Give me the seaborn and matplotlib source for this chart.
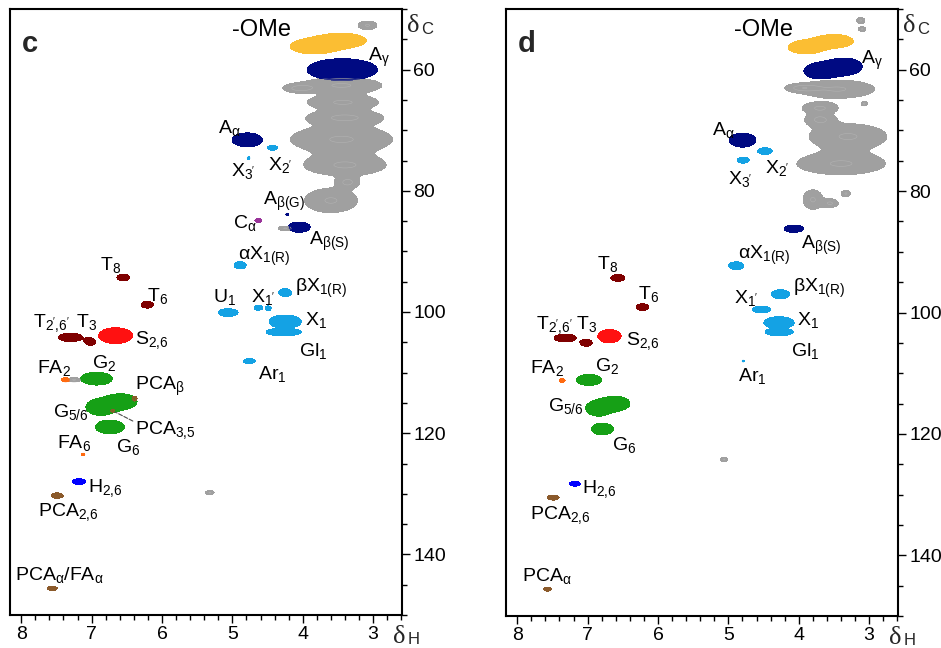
import numpy as np
import matplotlib
matplotlib.use("Agg")
import matplotlib.pyplot as plt
from matplotlib.ticker import MultipleLocator
import seaborn as sns

# ------------------------------------------------------------------
# Cross-peaks (dH, dC in ppm, widths in ppm)
# ------------------------------------------------------------------
c_group = ["poly"] * 12 + ["OMe", "OMe", "A", "A", "X", "X", "A", "C", "A",
           "X", "X", "U", "X", "X", "X", "Gl", "Ar", "T", "T", "T", "T", "S",
           "FA", "G", "G", "G", "G", "PCA", "PCA", "FA", "H", "PCA", "PCA"]
c_dh = [3.08, 3.45, 4.05, 3.43, 3.40, 3.45, 3.40, 3.36, 3.60, 4.25, 5.32, 7.25,
        3.85, 3.45, 3.44, 4.79, 4.43, 4.77, 4.22, 4.63, 4.05,
        4.89, 4.25, 5.06, 4.63, 4.49, 4.25, 4.27, 4.76, 6.55, 6.21, 7.30, 7.02, 6.66,
        7.37, 6.93, 6.88, 6.58, 6.74, 6.39, 6.70, 7.12, 7.18, 7.49, 7.56]
c_dc = [52.7, 62.6, 63.1, 65.4, 67.9, 71.5, 75.8, 78.6, 81.6, 86.2, 129.8, 111.2,
        56.2, 55.2, 60.0, 71.6, 72.9, 74.6, 83.9, 84.9, 86.0,
        92.3, 96.8, 100.1, 99.3, 99.4, 101.6, 103.3, 108.1, 94.3, 98.8, 104.2, 104.9, 103.9,
        111.2, 111.0, 115.7, 114.8, 119.0, 114.3, 116.3, 123.5, 128.0, 130.3, 145.6]
c_wh = [0.27, 1.15, 0.40, 1.00, 1.05, 1.45, 1.15, 0.30, 0.75, 0.20, 0.12, 0.20,
        0.65, 0.70, 1.00, 0.43, 0.14, 0.04, 0.04, 0.10, 0.31,
        0.17, 0.18, 0.28, 0.12, 0.08, 0.46, 0.50, 0.17, 0.18, 0.17, 0.34, 0.15, 0.48,
        0.12, 0.45, 0.40, 0.45, 0.41, 0.07, 0.06, 0.05, 0.18, 0.17, 0.14]
c_wc = [1.4, 2.6, 1.3, 2.3, 2.3, 4.4, 3.4, 1.8, 4.0, 0.7, 0.7, 0.7,
        2.4, 2.4, 3.6, 2.3, 0.8, 0.4, 0.4, 0.6, 1.7,
        1.2, 1.3, 1.3, 0.8, 0.8, 2.2, 1.3, 0.8, 1.1, 1.1, 1.4, 1.2, 2.6,
        0.7, 2.1, 2.6, 2.6, 2.2, 0.8, 0.5, 0.4, 1.0, 0.9, 0.7]

d_group = ["poly"] * 13 + ["OMe", "OMe", "A", "A", "A", "X", "X", "A",
           "X", "X", "X", "X", "Gl", "Ar", "T", "T", "T", "T", "S",
           "FA", "G", "G", "G", "G", "H", "PCA", "PCA"]
d_dh = [3.12, 3.10, 3.45, 3.95, 3.07, 3.70, 3.70, 3.30, 3.40, 3.80, 3.55, 3.33, 5.06,
        3.90, 3.50, 3.70, 3.35, 4.80, 4.48, 4.79, 4.07,
        4.89, 4.26, 4.53, 4.28, 4.28, 4.79, 6.57, 6.22, 7.32, 7.02, 6.69,
        7.36, 6.98, 6.85, 6.60, 6.79, 7.18, 7.49, 7.57]
d_dc = [51.9, 53.3, 63.2, 63.0, 65.6, 66.3, 68.2, 71.0, 75.5, 81.4, 82.0, 80.4, 124.2,
        56.3, 55.3, 60.2, 59.5, 71.6, 73.4, 74.9, 86.2,
        92.3, 97.0, 99.5, 101.7, 103.2, 108.0, 94.3, 99.1, 104.2, 105.0, 103.9,
        111.2, 111.1, 115.8, 115.0, 119.2, 128.2, 130.5, 145.6]
d_wh = [0.12, 0.10, 1.05, 0.42, 0.08, 0.50, 0.40, 1.10, 1.25, 0.28, 0.22, 0.13, 0.10,
        0.50, 0.55, 0.45, 0.50, 0.38, 0.21, 0.17, 0.28,
        0.21, 0.26, 0.26, 0.43, 0.40, 0.03, 0.20, 0.18, 0.31, 0.17, 0.33,
        0.08, 0.36, 0.35, 0.40, 0.31, 0.15, 0.17, 0.11]
d_wc = [1.0, 0.8, 3.0, 1.2, 0.7, 1.8, 2.0, 4.2, 3.6, 3.2, 1.4, 1.1, 0.7,
        2.2, 2.2, 2.6, 2.8, 2.3, 1.1, 1.0, 1.2,
        1.3, 1.5, 1.1, 2.0, 1.3, 0.3, 1.1, 1.1, 1.3, 1.1, 2.2,
        0.6, 1.8, 2.5, 2.4, 1.9, 0.8, 0.8, 0.6]

# assignment labels (text, dH, dC of baseline)
c_labels = ["-OMe", "A$_{γ}$", "A$_{α}$", "X$_{3'}$", "X$_{2'}$", "A$_{β(G)}$", "C$_{α}$",
            "A$_{β(S)}$", "αX$_{1(R)}$", "βX$_{1(R)}$", "U$_{1}$", "X$_{1'}$", "X$_{1}$",
            "T$_{8}$", "T$_{6}$", "T$_{2'{,}6'}$", "T$_{3}$", "S$_{2{,}6}$", "Gl$_{1}$", "Ar$_{1}$",
            "FA$_{2}$", "G$_{2}$", "PCA$_{β}$", "G$_{5/6}$", "PCA$_{3{,}5}$", "FA$_{6}$", "G$_{6}$",
            "H$_{2{,}6}$", "PCA$_{2{,}6}$", "PCA$_{α}$/FA$_{α}$"]
c_label_dh = [5.00, 3.07, 5.20, 5.02, 4.49, 4.56, 4.99, 3.91, 4.92, 4.11, 5.27, 4.73, 3.97,
              6.88, 6.21, 7.84, 7.22, 6.39, 4.05, 4.63, 7.77, 6.99, 6.39, 7.55, 6.38, 7.49, 6.66,
              7.05, 7.76, 8.09]
c_label_dc = [54.4, 58.5, 70.5, 77.6, 76.6, 82.3, 86.2, 88.9, 91.5, 96.7, 98.4, 98.4, 102.2,
              93.0, 98.2, 102.5, 102.5, 105.3, 107.3, 111.1, 110.0, 109.3, 112.9, 117.4, 120.2,
              122.4, 123.1, 129.7, 133.7, 144.3]

d_labels = ["-OMe", "A$_{γ}$", "A$_{α}$", "X$_{2'}$", "X$_{3'}$", "A$_{β(S)}$", "αX$_{1(R)}$",
            "βX$_{1(R)}$", "X$_{1'}$", "X$_{1}$", "T$_{8}$", "T$_{6}$", "T$_{2'{,}6'}$", "T$_{3}$",
            "S$_{2{,}6}$", "Gl$_{1}$", "Ar$_{1}$", "FA$_{2}$", "G$_{2}$", "G$_{5/6}$", "G$_{6}$",
            "H$_{2{,}6}$", "PCA$_{2{,}6}$", "PCA$_{α}$"]
d_label_dh = [4.92, 3.11, 5.23, 4.48, 5.00, 3.97, 4.87, 4.08, 4.92, 4.02, 6.86, 6.28, 7.73,
              7.16, 6.45, 4.11, 4.86, 7.82, 6.89, 7.57, 6.65, 7.08, 7.82, 7.93]
d_label_dc = [54.4, 59.0, 70.7, 77.0, 78.8, 89.6, 91.2, 96.7, 98.4, 102.0, 92.9, 97.8, 102.7,
              102.7, 105.3, 107.2, 111.3, 110.0, 109.6, 116.2, 122.6, 129.7, 134.0, 144.3]

group_colors = {"poly": "#a0a0a0", "OMe": "#fbbe33", "A": "#000a82", "X": "#14a2e4",
                "U": "#14a2e4", "Gl": "#14a2e4", "Ar": "#14a2e4", "C": "#993399",
                "T": "#7f0000", "S": "#ff1111", "G": "#16a016", "FA": "#ff6a10",
                "PCA": "#8b5a2b", "H": "#0000ff"}
group_order = ["poly", "OMe", "A", "C", "X", "U", "Gl", "Ar", "T", "S", "G", "FA", "PCA", "H"]

sns.set_theme(style="ticks")
plt.rcParams["font.family"] = ["Liberation Sans", "DejaVu Sans"]
plt.rcParams["mathtext.fontset"] = "custom"
plt.rcParams["mathtext.rm"] = "Liberation Sans"
plt.rcParams["mathtext.default"] = "regular"

XS = np.linspace(2.5, 8.25, 720)
YS = np.linspace(48, 152, 1400)
GX, GY = np.meshgrid(XS, YS)


def draw_panel(ax, group, dh, dc, wh, wc, labels, lab_dh, lab_dc, letter):
    group = np.array(group)
    dh, dc, wh, wc = map(np.asarray, (dh, dc, wh, wc))
    for g in group_order:
        sel = group == g
        if not sel.any():
            continue
        field = np.zeros_like(GX)
        for x0, y0, rx, ry in zip(dh[sel], dc[sel], wh[sel] / 2, wc[sel] / 2):
            field += np.exp(-(((GX - x0) / rx) ** 2 + ((GY - y0) / ry) ** 2))
        col = group_colors[g]
        ax.contourf(GX, GY, field, levels=[np.exp(-1), 1e9], colors=[col])
        ax.contour(GX, GY, field, levels=[0.45, 0.6, 0.75], colors=[col], linewidths=0.6)
        if g == "poly":
            # faint contour texture inside the polysaccharide envelope
            ax.contour(GX, GY, field, levels=[0.95, 1.4], colors=["#b2b2b2"],
                       linewidths=0.4)
    for t, x, y in zip(labels, lab_dh, lab_dc):
        fs = 17 if t == "-OMe" else 14
        ax.text(x, y, t, fontsize=fs, ha="left", va="baseline", color="black")

    ax.set_xlim(8.16, 2.59)
    ax.set_ylim(150, 50)
    ax.xaxis.set_major_locator(MultipleLocator(1))
    ax.xaxis.set_minor_locator(MultipleLocator(0.2))
    ax.yaxis.set_major_locator(MultipleLocator(20))
    ax.yaxis.set_minor_locator(MultipleLocator(5))
    ax.yaxis.tick_right()
    ax.tick_params(which="both", direction="out", width=1, colors="black",
                   labelsize=14, top=False, left=False, right=True, bottom=True)
    ax.tick_params(which="major", length=6, pad=2)
    ax.tick_params(which="minor", length=3.5)
    for s in ax.spines.values():
        s.set_linewidth(1.5)
        s.set_color("black")
    ax.set_xlabel("")
    ax.set_ylabel("")
    ax.text(0.03, 0.929, letter, transform=ax.transAxes, fontsize=21, fontweight="bold")
    ax.text(1.013, 0.962, "δ", transform=ax.transAxes, fontsize=19, family="Liberation Serif")
    ax.text(1.050, 0.958, "C", transform=ax.transAxes, fontsize=12)
    ax.text(0.977, -0.046, "δ", transform=ax.transAxes, fontsize=19, family="Liberation Serif")
    ax.text(1.015, -0.048, "H", transform=ax.transAxes, fontsize=12)


fig = plt.figure(figsize=(9.41, 6.48), dpi=100)
ax_c = fig.add_axes([10 / 941, 1 - 615 / 648, 392 / 941, 606 / 648])
ax_d = fig.add_axes([506 / 941, 1 - 616 / 648, 392 / 941, 607 / 648])

draw_panel(ax_c, c_group, c_dh, c_dc, c_wh, c_wc, c_labels, c_label_dh, c_label_dc, "c")
draw_panel(ax_d, d_group, d_dh, d_dc, d_wh, d_wc, d_labels, d_label_dh, d_label_dc, "d")

# leader from PCA3,5 label to its cross-peak
i35 = c_labels.index("PCA$_{3{,}5}$")
ax_c.annotate("", xy=(6.70, 116.3), xytext=(c_label_dh[i35], c_label_dc[i35] - 2.0),
              arrowprops=dict(arrowstyle="-", ls="--", lw=0.8, color="0.3"))

fig.savefig("out.png", dpi=100)
